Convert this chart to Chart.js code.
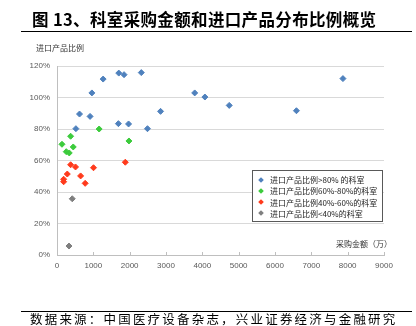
<!DOCTYPE html>
<html>
<head>
<meta charset="utf-8">
<script src="https://cdn.jsdelivr.net/npm/chart.js@4"></script>
<style>
    body { margin: 0; background: #fff; }
    #wrap { position: relative; width: 416px; height: 326px; overflow: hidden; font-family: "Noto Sans CJK SC", sans-serif; }
    #chart { position: absolute; left: 0; top: 0; }
    .title { position: absolute; left: 32px; top: 11px; font-size: 16.5px; line-height: 1; font-weight: bold; color: #000; white-space: nowrap; letter-spacing: 0.35px; }
    .rule { position: absolute; left: 21px; width: 391px; height: 0; border-top: 1px solid #000; }
    .ytitle { position: absolute; left: 36px; top: 44px; font-size: 8px; line-height: 1; color: #333; white-space: nowrap; }
    .xtitle { position: absolute; right: 24px; top: 240px; font-size: 8px; line-height: 1; color: #333; white-space: nowrap; }
    .source { position: absolute; left: 30px; top: 313px; font-size: 12.5px; line-height: 1; color: #000; white-space: nowrap; letter-spacing: 2.2px; }
    #legend { position: absolute; left: 252px; top: 170px; width: 131px; height: 52px; border: 1px solid #595959; box-sizing: border-box; background: #fff; font-size: 8px; color: #222; padding-top: 3px; }
    #legend div { height: 11.3px; line-height: 11.3px; white-space: nowrap; position: relative; padding-left: 17px; }
    #legend i { position: absolute; left: 6px; top: 3.5px; width: 4px; height: 4px; transform: rotate(45deg); }
</style>
</head>
<body>
<div id="wrap">
    <canvas id="chart" width="416" height="326"></canvas>
    <div class="title">图 13、科室采购金额和进口产品分布比例概览</div>
    <div class="rule" style="top:31px"></div>
    <div class="ytitle">进口产品比例</div>
    <div class="xtitle">采购金额（万）</div>
    <div id="legend"></div>
    <div class="rule" style="top:311px"></div>
    <div class="source">数据来源：中国医疗设备杂志，兴业证券经济与金融研究</div>
</div>
<script>
// 采购金额（万） / 进口产品比例（%）
const labels = ["进口产品比例>80% 的科室", "进口产品比例60%-80%的科室", "进口产品比例40%-60%的科室", "进口产品比例<40%的科室"];
const colors = ["#4f81bd", "#3ccb3c", "#ff3a1c", "#7f7f7f"];

const over80X = [520, 620, 910, 960, 1270, 1700, 1845, 1690, 1970, 2320, 2490, 2850, 3790, 4070, 4740, 6590, 7870];
const over80Y = [80.2, 89.5, 88, 102.9, 111.7, 115.5, 114.5, 83.4, 83.2, 115.8, 80.2, 91.2, 102.9, 100.3, 95, 91.6, 112];

const from60X = [137, 255, 337, 375, 447, 1160, 1980];
const from60Y = [70.3, 65.6, 64.8, 75.4, 68.6, 80, 72.4];

const from40X = [375, 510, 283, 183, 183, 650, 775, 1005, 1880];
const from40Y = [57.3, 55.9, 51.4, 48.1, 46.5, 50.2, 45.5, 55.4, 58.9];

const under40X = [420, 330];
const under40Y = [35.7, 5.7];

const xTicks = [0, 1000, 2000, 3000, 4000, 5000, 6000, 7000, 8000, 9000];
const yTicks = [0, 20, 40, 60, 80, 100, 120];

function points(xs, ys) {
    return xs.map((x, i) => ({ x: x, y: ys[i] }));
}

const series = [points(over80X, over80Y), points(from60X, from60Y), points(from40X, from40Y), points(under40X, under40Y)];

// small tick marks pointing up from the x axis
const innerTicks = {
    id: 'innerTicks',
    afterDraw(chart) {
        const ctx = chart.ctx;
        const xs = chart.scales.x;
        const bottom = chart.chartArea.bottom;
        ctx.save();
        ctx.strokeStyle = '#bfbfbf';
        ctx.lineWidth = 1;
        xTicks.forEach(v => {
            const px = Math.round(xs.getPixelForValue(v)) + 0.5;
            ctx.beginPath();
            ctx.moveTo(px, bottom);
            ctx.lineTo(px, bottom - 3);
            ctx.stroke();
        });
        ctx.restore();
    }
};

new Chart(document.getElementById('chart'), {
    type: 'scatter',
    data: {
        datasets: series.map((d, i) => ({
            label: labels[i],
            data: d,
            pointStyle: 'rectRot',
            pointRadius: 3,
            pointBackgroundColor: colors[i],
            pointBorderColor: colors[i],
            pointBorderWidth: 1
        }))
    },
    options: {
        responsive: false,
        animation: false,
        layout: { padding: { top: 66, left: 0, right: 32, bottom: 55 } },
        plugins: {
            legend: { display: false },
            tooltip: { enabled: false }
        },
        scales: {
            x: {
                type: 'linear',
                min: 0,
                max: 9000,
                afterFit: s => { s.height = 16; },
                afterBuildTicks: s => { s.ticks = xTicks.map(v => ({ value: v })); },
                grid: { display: true, drawOnChartArea: false, drawTicks: false },
                border: { display: true, color: '#bfbfbf', width: 1 },
                ticks: {
                    padding: 6,
                    color: '#595959',
                    font: { family: 'Liberation Sans', size: 8 },
                    maxRotation: 0,
                    callback: v => v
                }
            },
            y: {
                type: 'linear',
                min: 0,
                max: 120,
                afterFit: s => { s.width = 57; },
                afterBuildTicks: s => { s.ticks = yTicks.map(v => ({ value: v })); },
                grid: { color: '#d9d9d9', lineWidth: 1, drawTicks: false },
                border: { display: true, color: '#bfbfbf', width: 1 },
                ticks: {
                    padding: 7,
                    color: '#595959',
                    font: { family: 'Liberation Sans', size: 8 },
                    callback: v => v + '%'
                }
            }
        }
    },
    plugins: [innerTicks]
});

const legend = document.getElementById('legend');
labels.forEach((t, i) => {
    const row = document.createElement('div');
    const m = document.createElement('i');
    m.style.background = colors[i];
    row.appendChild(m);
    row.appendChild(document.createTextNode(t));
    legend.appendChild(row);
});
</script>
</body>
</html>
